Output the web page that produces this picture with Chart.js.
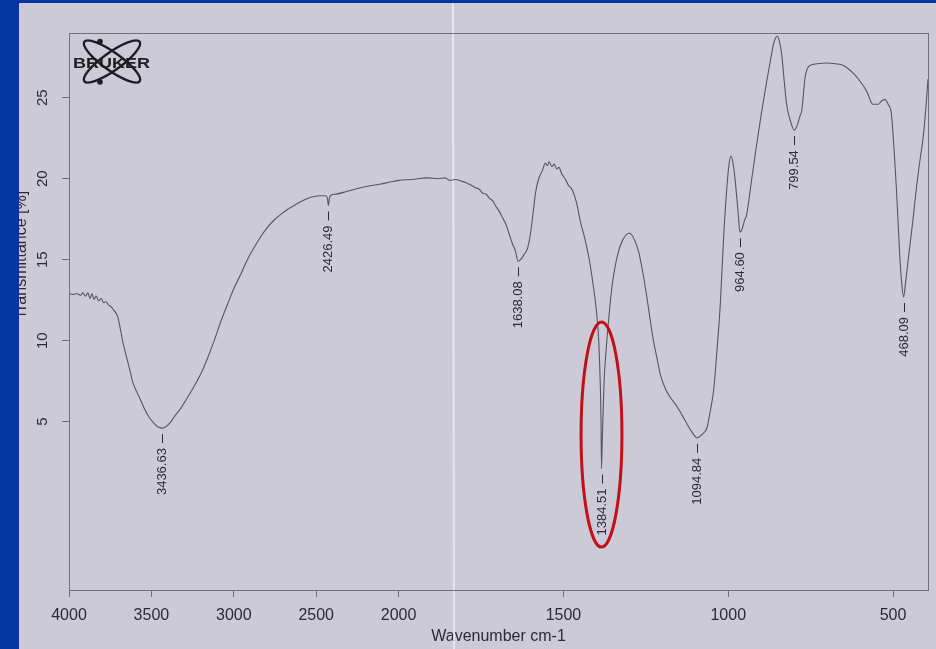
<!DOCTYPE html>
<html>
<head>
<meta charset="utf-8">
<script src="https://cdn.jsdelivr.net/npm/chart.js@4/dist/chart.umd.min.js"></script>
<style>
  html, body { margin: 0; padding: 0; background: #0535a0; width: 936px; height: 649px; overflow: hidden; }
  #paper { position: absolute; left: 19px; top: 3px; width: 917px; height: 646px; background: #cdcad8; }
</style>
</head>
<body>
<div id="paper"><canvas id="ir" width="917" height="646"></canvas></div>
<script>
// spectrum (wavenumber cm-1 / transmittance %)
const wavenumbers = [
  4000, 3975, 3950, 3930, 3915, 3900, 3885, 3872, 3860, 3848, 3835, 3820, 3805, 3790, 3775, 3760, 3745, 3730, 3715, 3705,
  3690, 3675, 3660, 3645, 3630, 3615, 3590, 3564, 3540, 3513, 3480, 3455, 3436.63, 3410, 3385, 3361, 3320, 3280, 3240, 3200,
  3160, 3119, 3080, 3038, 3000, 2958, 2920, 2877, 2835, 2796, 2755, 2715, 2675, 2634, 2580, 2533, 2480, 2445, 2432, 2426.49,
  2420, 2410, 2380, 2320, 2250, 2180, 2109, 2050, 2000, 1960, 1913, 1880, 1860, 1845, 1828, 1810, 1795, 1780, 1767, 1755,
  1745, 1735, 1725, 1715, 1705, 1695, 1685, 1675, 1665, 1655, 1645, 1638.08, 1630, 1620, 1609, 1600, 1592, 1584, 1575, 1564,
  1555, 1548, 1544, 1535, 1528, 1520, 1514, 1505, 1495, 1485, 1473, 1460, 1448, 1435, 1423, 1413, 1403, 1397, 1393, 1389,
  1386, 1384.51, 1382, 1379, 1376, 1372, 1368, 1360, 1353, 1343, 1333, 1318, 1300, 1286, 1272, 1260, 1247, 1237, 1227, 1216,
  1206, 1190, 1176, 1156, 1140, 1125, 1110, 1094.84, 1080, 1064, 1055, 1044, 1035, 1024, 1014, 1004, 997, 991, 985, 979,
  970, 964.6, 958, 951, 944, 930, 914, 899, 883, 872, 863, 856, 851, 845, 838, 830, 823, 812, 799.54, 789,
  782, 777, 772, 767, 760, 752, 730, 702, 675, 651, 625, 601, 580, 561, 545, 535, 525, 515, 505, 497,
  490, 485, 480, 474, 468.09, 462, 452, 440, 429, 418, 409, 400, 394
];
const transmittance = [
  12.9, 12.85, 12.9, 12.8, 12.95, 12.75, 12.95, 12.6, 12.9, 12.55, 12.75, 12.45, 12.6, 12.35, 12.4, 12.2, 12.1, 11.9, 11.7, 11.5,
  10.8, 10.0, 9.35, 8.75, 8.15, 7.5, 6.85, 6.3, 5.75, 5.25, 4.85, 4.65, 4.6, 4.7, 4.95, 5.3, 5.85, 6.5, 7.2, 7.95,
  8.9, 10.0, 11.15, 12.25, 13.2, 14.1, 14.95, 15.75, 16.45, 17.0, 17.45, 17.8, 18.1, 18.35, 18.65, 18.85, 18.95, 18.95, 18.8, 18.35,
  18.8, 18.98, 19.05, 19.2, 19.4, 19.55, 19.67, 19.8, 19.9, 19.95, 20.05, 20.0, 20.05, 19.9, 19.95, 19.85, 19.75, 19.6, 19.45, 19.35,
  19.1, 19.05, 18.8, 18.65, 18.3, 18.0, 17.6, 17.2, 16.6, 16.0, 15.5, 14.9, 15.0, 15.3, 15.7, 16.6, 17.9, 19.2, 20.0, 20.5,
  20.95, 20.8, 21.05, 20.75, 20.9, 20.6, 20.7, 20.3, 20.0, 19.6, 19.3, 18.5, 17.3, 16.3, 15.15, 13.9, 12.4, 11.2, 10.0, 7.8,
  5.2, 2.1, 4.0, 6.0, 7.8, 9.0, 10.1, 11.9, 13.3, 14.6, 15.5, 16.3, 16.63, 16.3, 15.5, 14.3, 12.7, 11.3, 10.0, 8.9,
  7.9, 7.0, 6.5, 5.95, 5.4, 4.85, 4.35, 4.0, 4.2, 4.65, 5.6, 7.0, 9.2, 12.3, 16.4, 19.5, 21.0, 21.4, 20.9, 19.9,
  17.9, 16.7, 16.9, 17.4, 17.8, 19.8, 22.1, 24.1, 26.05, 27.3, 28.3, 28.7, 28.8, 28.5, 27.7, 26.0, 24.6, 23.6, 23.0, 23.4,
  23.9, 24.2, 25.2, 26.25, 26.8, 27.0, 27.1, 27.15, 27.1, 27.0, 26.6, 26.05, 25.4, 24.6, 24.6, 24.8, 24.9, 24.6, 24.0, 21.8,
  19.46, 17.4, 15.35, 13.6, 12.7, 13.6, 15.35, 17.4, 19.46, 21.2, 22.5, 24.5, 26.15
];

// labelled peaks
const peakWn = [3436.63, 2426.49, 1638.08, 1384.51, 1094.84, 964.6, 799.54, 468.09];
const peakT = [4.6, 18.35, 14.9, 2.1, 4.0, 16.7, 23.0, 12.7];
const peakText = ["3436.63", "2426.49", "1638.08", "1384.51", "1094.84", "964.60", "799.54", "468.09"];

const xTicks = [4000, 3500, 3000, 2500, 2000, 1500, 1000, 500];
const yTicks = [5, 10, 15, 20, 25];
const xTitle = "Wavenumber cm-1";
const yTitle = "Transmittance [%]";

// highlighted band (red ring) around 1384 cm-1
const ringWn = 1384.5, ringT = 4.2, ringHalfWn = 62, ringHalfT = 6.95;

const BREAK_WN = 2000; // Bruker plots squeeze everything above 2000 cm-1 by half
const FONT = "'Liberation Sans', Arial, sans-serif";
const INK = "#2b2b33";

class SplitScale extends Chart.LinearScale {
  warp(v) { return v > BREAK_WN ? BREAK_WN + (v - BREAK_WN) / 2 : v; }
  unwarp(u) { return u > BREAK_WN ? BREAK_WN + (u - BREAK_WN) * 2 : u; }
  getPixelForValue(v) {
    const a = this.warp(this.min), b = this.warp(this.max);
    return this.getPixelForDecimal((this.warp(v) - a) / (b - a));
  }
  getValueForPixel(p) {
    const a = this.warp(this.min), b = this.warp(this.max);
    return this.unwarp(a + this.getDecimalForPixel(p) * (b - a));
  }
}
SplitScale.id = "split";
SplitScale.defaults = {};
Chart.register(SplitScale);

const decor = {
  id: "decor",
  beforeDatasetsDraw(chart) {
    const ctx = chart.ctx;
    // paper fold
    ctx.save();
    ctx.strokeStyle = "rgba(238,238,248,0.75)";
    ctx.lineWidth = 2;
    ctx.beginPath();
    ctx.moveTo(434, 0);
    ctx.lineTo(435, 646);
    ctx.stroke();
    ctx.restore();
  },
  afterDraw(chart) {
    const ctx = chart.ctx;
    const a = chart.chartArea;
    const x = chart.scales.x, y = chart.scales.y;
    ctx.save();

    // frame
    ctx.strokeStyle = "#6f6f7a";
    ctx.lineWidth = 1;
    ctx.strokeRect(a.left + 0.5, a.top + 0.5, a.right - a.left, a.bottom - a.top);

    // y tick labels, rotated like the print
    ctx.fillStyle = INK;
    ctx.font = "15px " + FONT;
    ctx.textAlign = "center";
    ctx.textBaseline = "middle";
    y.ticks.forEach(t => {
      ctx.save();
      ctx.translate(24, y.getPixelForValue(t.value));
      ctx.rotate(-Math.PI / 2);
      ctx.fillText(String(t.value), 0, 0);
      ctx.restore();
    });

    // y title, half hidden under the slide border
    ctx.save();
    ctx.font = "16px " + FONT;
    ctx.textBaseline = "alphabetic";
    ctx.translate(7, 252);
    ctx.rotate(-Math.PI / 2);
    ctx.fillText(yTitle, 0, 0);
    ctx.restore();

    // peak labels
    ctx.font = "13px " + FONT;
    ctx.strokeStyle = INK;
    ctx.lineWidth = 1;
    peakWn.forEach((w, i) => {
      const px = Math.round(x.getPixelForValue(w)) + 0.5;
      const py = y.getPixelForValue(peakT[i]);
      ctx.beginPath();
      ctx.moveTo(px, py + 6);
      ctx.lineTo(px, py + 15);
      ctx.stroke();
      ctx.save();
      ctx.translate(px, py + 20);
      ctx.rotate(-Math.PI / 2);
      ctx.textAlign = "right";
      ctx.textBaseline = "middle";
      ctx.fillText(peakText[i], 0, 0);
      ctx.restore();
    });

    // red ring
    const cx = x.getPixelForValue(ringWn), cy = y.getPixelForValue(ringT);
    const rx = Math.abs(x.getPixelForValue(ringWn + ringHalfWn) - cx);
    const ry = Math.abs(y.getPixelForValue(ringT + ringHalfT) - cy);
    ctx.strokeStyle = "#c01018";
    ctx.lineWidth = 3;
    ctx.beginPath();
    ctx.ellipse(cx, cy, rx, ry, 0, 0, Math.PI * 2);
    ctx.stroke();

    // BRUKER logo
    ctx.strokeStyle = "#1e1e22";
    ctx.fillStyle = "#1e1e22";
    ctx.lineWidth = 2.4;
    [0.62, -0.62].forEach(r => {
      ctx.beginPath();
      ctx.ellipse(93, 58.5, 34, 9, r, 0, Math.PI * 2);
      ctx.stroke();
    });
    [[81, 38.5], [81, 79]].forEach(p => {
      ctx.beginPath();
      ctx.arc(p[0], p[1], 2.8, 0, Math.PI * 2);
      ctx.fill();
    });
    ctx.font = "bold 15px " + FONT;
    ctx.textAlign = "left";
    ctx.textBaseline = "alphabetic";
    const tw = ctx.measureText("BRUKER").width;
    ctx.save();
    ctx.translate(54, 65);
    ctx.scale(77 / tw, 1);
    ctx.fillText("BRUKER", 0, 0);
    ctx.restore();

    ctx.restore();
  }
};

const points = wavenumbers.map((w, i) => ({ x: w, y: transmittance[i] }));

new Chart(document.getElementById("ir"), {
  type: "line",
  data: {
    datasets: [{
      data: points,
      borderColor: "#55555f",
      borderWidth: 1.1,
      pointRadius: 0,
      fill: false,
      cubicInterpolationMode: "monotone"
    }]
  },
  options: {
    responsive: false,
    animation: false,
    devicePixelRatio: 1,
    layout: { padding: { left: 0, top: 30, right: 8, bottom: 0 } },
    plugins: { legend: { display: false }, tooltip: { enabled: false } },
    scales: {
      x: {
        type: "split",
        reverse: true,
        min: 394,
        max: 4000,
        afterBuildTicks: s => { s.ticks = xTicks.map(v => ({ value: v })); },
        afterFit: s => { s.height = 59; },
        grid: { drawOnChartArea: false, tickLength: 7, color: "#6f6f7a" },
        border: { color: "#6f6f7a" },
        ticks: {
          color: INK,
          padding: 9,
          maxRotation: 0,
          autoSkip: false,
          font: { family: FONT, size: 16 },
          callback: v => String(v)
        },
        title: {
          display: true,
          text: xTitle,
          color: INK,
          padding: { top: 0, bottom: 3 },
          font: { family: FONT, size: 16 }
        }
      },
      y: {
        min: -5.4,
        max: 29,
        afterBuildTicks: s => { s.ticks = yTicks.map(v => ({ value: v })); },
        afterFit: s => { s.width = 50; },
        grid: { drawOnChartArea: false, tickLength: 7, color: "#6f6f7a" },
        border: { color: "#6f6f7a" },
        ticks: { display: false }
      }
    }
  },
  plugins: [decor]
});
</script>
</body>
</html>
